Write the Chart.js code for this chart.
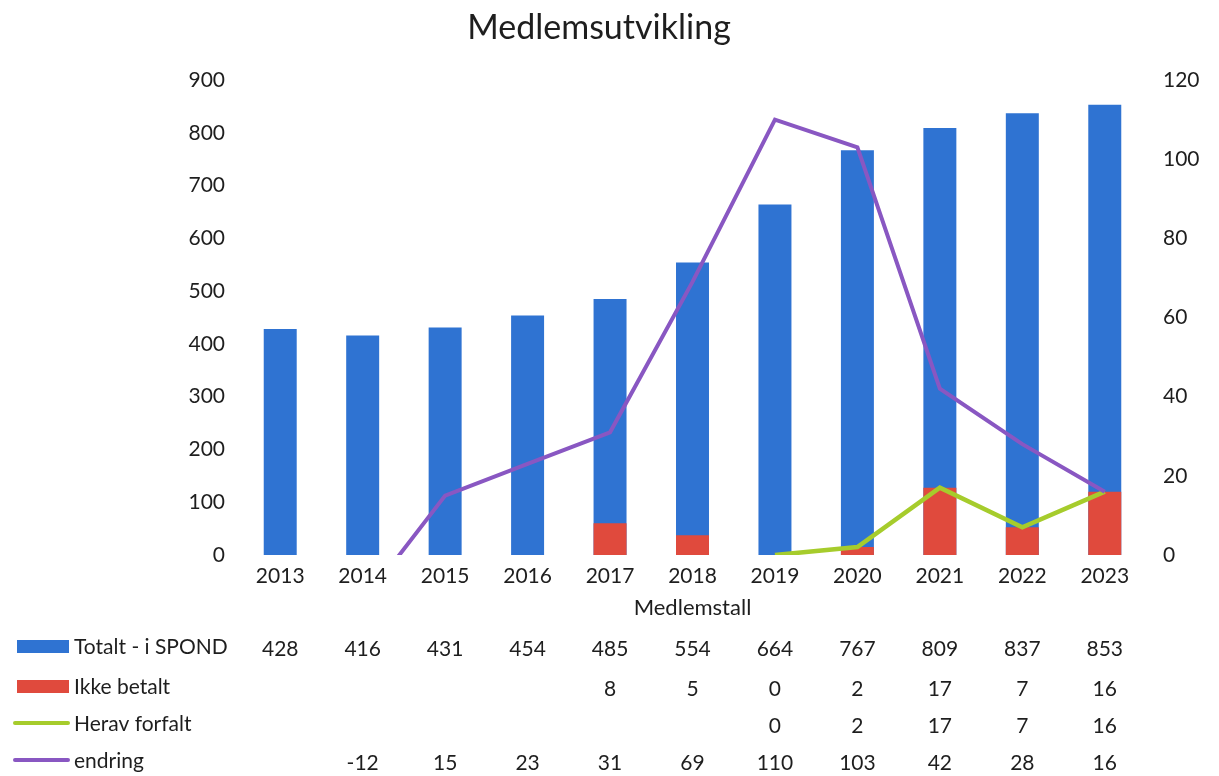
<!DOCTYPE html>
<html>
<head>
<meta charset="utf-8">
<script src="https://cdn.jsdelivr.net/npm/chart.js@4/dist/chart.umd.min.js"></script>
<style>
    body { margin: 0; background: #fff; }
    #wrap { width: 1219px; height: 776px; }
</style>
</head>
<body>
<div id="wrap"><canvas id="medlemChart"></canvas></div>
<script>
const aar = ['2013', '2014', '2015', '2016', '2017', '2018', '2019', '2020', '2021', '2022', '2023'];
const totalt = [428, 416, 431, 454, 485, 554, 664, 767, 809, 837, 853];
const ikkeBetalt = [null, null, null, null, 8, 5, 0, 2, 17, 7, 16];
const forfalt = [null, null, null, null, null, null, 0, 2, 17, 7, 16];
const endring = [null, -12, 15, 23, 31, 69, 110, 103, 42, 28, 16];
const venstreTicks = [0, 100, 200, 300, 400, 500, 600, 700, 800, 900];
const hoyreTicks = [0, 20, 40, 60, 80, 100, 120];

const farger = {
    totalt: '#2f73d2',
    ikke: '#e04a3d',
    forfalt: '#a6cc2c',
    endring: '#8957c2'
};
const font = 'Lato, "Noto Sans", sans-serif';

// tittel, aksetittel og datatabell under grafen
const tabellPlugin = {
    id: 'tabell',
    afterDraw(chart) {
        const ctx = chart.ctx;
        const x = chart.scales.x;
        ctx.save();
        ctx.fillStyle = '#1e1e1e';
        ctx.textBaseline = 'middle';
        ctx.textAlign = 'center';
        ctx.font = '34px ' + font;
        ctx.fillText('Medlemsutvikling', 599, 28);
        ctx.font = '22px ' + font;
        ctx.fillText('Medlemstall', (chart.chartArea.left + chart.chartArea.right) / 2, 608);

        const rader = [
            { navn: 'Totalt - i SPOND', data: totalt, farge: farger.totalt, type: 'bar', y: 647 },
            { navn: 'Ikke betalt', data: ikkeBetalt, farge: farger.ikke, type: 'bar', y: 687 },
            { navn: 'Herav forfalt', data: forfalt, farge: farger.forfalt, type: 'line', y: 724 },
            { navn: 'endring', data: endring, farge: farger.endring, type: 'line', y: 761 }
        ];
        ctx.font = '21px ' + font;
        rader.forEach(rad => {
            if (rad.type === 'bar') {
                ctx.fillStyle = rad.farge;
                ctx.fillRect(17, rad.y - 7, 52, 13);
            } else {
                ctx.strokeStyle = rad.farge;
                ctx.lineWidth = 4;
                ctx.lineCap = 'round';
                ctx.beginPath();
                ctx.moveTo(15, rad.y - 1);
                ctx.lineTo(68, rad.y - 1);
                ctx.stroke();
            }
            ctx.fillStyle = '#1e1e1e';
            ctx.textAlign = 'left';
            ctx.fillText(rad.navn, 74, rad.y);
            ctx.textAlign = 'center';
            rad.data.forEach((v, i) => {
                if (v === null) return;
                ctx.fillText(String(v), x.getPixelForValue(i), rad.y + 2);
            });
        });
        ctx.restore();
    }
};

const ctx = document.getElementById('medlemChart').getContext('2d');
const medlemChart = new Chart(ctx, {
    type: 'bar',
    data: {
        labels: aar,
        datasets: [
            {
                type: 'line',
                label: 'endring',
                data: endring,
                yAxisID: 'y1',
                borderColor: farger.endring,
                borderWidth: 4,
                pointRadius: 0,
                order: 0
            },
            {
                type: 'line',
                label: 'Herav forfalt',
                data: forfalt,
                yAxisID: 'y1',
                borderColor: farger.forfalt,
                borderWidth: 4.5,
                pointRadius: 0,
                order: 1
            },
            {
                label: 'Ikke betalt',
                data: ikkeBetalt,
                yAxisID: 'y1',
                backgroundColor: farger.ikke,
                grouped: false,
                categoryPercentage: 1,
                barPercentage: 0.4,
                order: 2
            },
            {
                label: 'Totalt - i SPOND',
                data: totalt,
                yAxisID: 'y',
                backgroundColor: farger.totalt,
                grouped: false,
                categoryPercentage: 1,
                barPercentage: 0.4,
                order: 3
            }
        ]
    },
    options: {
        responsive: true,
        maintainAspectRatio: false,
        animation: false,
        layout: { padding: { top: 80, bottom: 181, left: 0, right: 0 } },
        plugins: {
            legend: { display: false },
            title: { display: false },
            tooltip: { enabled: false }
        },
        scales: {
            x: {
                grid: { display: false },
                border: { display: false },
                ticks: { color: '#1e1e1e', font: { size: 21, family: font }, padding: 1, maxRotation: 0 },
                afterFit(scale) { scale.height = 40; }
            },
            y: {
                position: 'left',
                min: 0,
                max: 900,
                afterBuildTicks(scale) { scale.ticks = venstreTicks.map(v => ({ value: v })); },
                grid: { display: false },
                border: { display: false },
                ticks: { color: '#1e1e1e', font: { size: 21, family: font }, padding: 6 },
                afterFit(scale) { scale.width = 239; }
            },
            y1: {
                position: 'right',
                min: 0,
                max: 120,
                afterBuildTicks(scale) { scale.ticks = hoyreTicks.map(v => ({ value: v })); },
                grid: { display: false },
                border: { display: false },
                ticks: { color: '#1e1e1e', font: { size: 21, family: font }, padding: 9 },
                afterFit(scale) { scale.width = 73; }
            }
        }
    },
    plugins: [tabellPlugin]
});
</script>
</body>
</html>
